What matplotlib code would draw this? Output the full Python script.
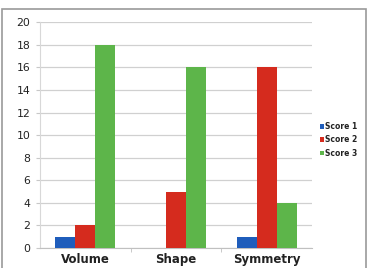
import matplotlib
matplotlib.use("Agg")
import matplotlib.pyplot as plt
import numpy as np
from matplotlib.patches import Rectangle

categories = ["Volume", "Shape", "Symmetry"]
score1 = [1, 0, 1]
score2 = [2, 5, 16]
score3 = [18, 16, 4]
series_names = ["Score 1", "Score 2", "Score 3"]
colors = ["#1f5dbb", "#d52b1e", "#5db54a"]
yticks = [0, 2, 4, 6, 8, 10, 12, 14, 16, 18, 20]

fig = plt.figure(figsize=(3.68, 2.68), dpi=100)
fig.patch.set_facecolor("white")
fig.patches.append(Rectangle((2/368, -0.05), 364/368, 1 - 9.5/268 + 0.05,
                             transform=fig.transFigure, fill=False,
                             edgecolor="#9a9a9a", linewidth=1.2))

ax = fig.add_axes([40/368, 1 - 248/268, 272/368, (248 - 22.3)/268])
x = np.arange(len(categories))
w = 0.22
for i, (vals, name, c) in enumerate(zip([score1, score2, score3], series_names, colors)):
    ax.bar(x + (i - 1) * w, vals, width=w, color=c, label=name, zorder=3)

ax.set_xlim(-0.5, 2.5)
ax.set_ylim(0, 20)
ax.set_yticks(yticks)
ax.set_yticklabels([str(t) for t in yticks], fontsize=7.8, color="#222222")
ax.yaxis.grid(True, color="#d0d0d0", linewidth=0.9, zorder=0)
ax.set_xticks(x)
ax.set_xticklabels(categories, fontsize=8.5, fontweight="bold", color="#222222")
ax.set_xticks([0.5, 1.5], minor=True)
ax.tick_params(axis="x", which="major", length=0, pad=3.5)
ax.tick_params(axis="x", which="minor", length=3, color="#c0c0c0")
ax.tick_params(axis="y", length=3, color="#c8c8c8", pad=4)
for s in ["top", "right"]:
    ax.spines[s].set_visible(False)
ax.spines["left"].set_color("#d8d8d8")
ax.spines["bottom"].set_color("#c0c0c0")

leg = fig.legend(loc="center left", bbox_to_anchor=(316/368, 1 - 140/268),
                 frameon=False, fontsize=5.5, handlelength=0.5, handleheight=0.6,
                 handletextpad=0.15, labelspacing=0.55, borderpad=0)
for t in leg.get_texts():
    t.set_fontweight("bold")
    t.set_color("#222222")

fig.savefig("out.png", dpi=100)
